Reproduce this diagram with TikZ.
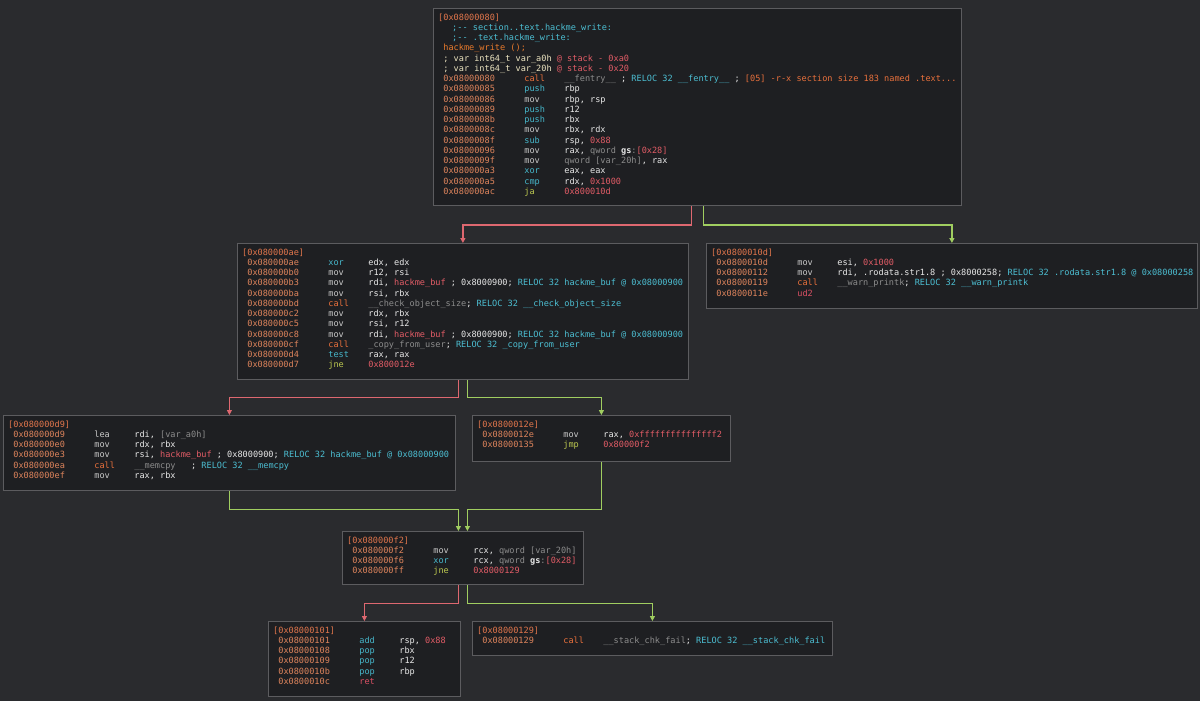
\documentclass[tikz,border=0pt]{standalone}
\usepackage{xcolor}
\usepackage{fontspec}
\setmonofont{DejaVu Sans Mono}
\usepackage{tikz}
\usetikzlibrary{arrows.meta}
\definecolor{bgdark}{RGB}{42,43,46}
\definecolor{boxfill}{RGB}{30,31,34}
\definecolor{boxline}{RGB}{92,92,95}
\definecolor{hdrorange}{RGB}{226,118,76}
\definecolor{addrorange}{RGB}{222,132,92}
\definecolor{opwhite}{RGB}{232,232,232}
\definecolor{mnemgrey}{RGB}{200,200,200}
\definecolor{mnemcyan}{RGB}{70,182,202}
\definecolor{callorange}{RGB}{232,112,60}
\definecolor{jumpgreen}{RGB}{188,200,80}
\definecolor{retred}{RGB}{218,80,100}
\definecolor{numred}{RGB}{226,92,102}
\definecolor{dimgrey}{RGB}{140,140,140}
\definecolor{reloccyan}{RGB}{76,190,210}
\definecolor{varyellow}{RGB}{236,228,192}
\definecolor{fnorange}{RGB}{232,122,44}
\definecolor{edgered}{RGB}{222,104,112}
\definecolor{edgegreen}{RGB}{160,206,96}

% one disassembly line: address, mnemonic colour, mnemonic, operands
\newcommand{\asmln}[4]{\hspace*{5.16pt}\makebox[81pt][l]{\textcolor{addrorange}{#1}}\makebox[40pt][l]{\textcolor{#2}{#3}}#4}
\newcommand{\cnum}[1]{\textcolor{numred}{#1}}
\newcommand{\cgry}[1]{\textcolor{dimgrey}{#1}}
\newcommand{\crel}[1]{\textcolor{reloccyan}{#1}}
\newcommand{\blkhead}[1]{\textcolor{hdrorange}{[#1]}}

\begin{document}
\begin{tikzpicture}[
    x=1pt, y=-1pt,
    blk/.style={draw=boxline, fill=boxfill, line width=0.8pt, inner sep=0pt,
                anchor=north west},
    code/.style={anchor=north west, inner sep=0pt, align=left, text=opwhite,
                 font=\ttfamily\fontsize{8.57pt}{10.25pt}\selectfont},
    fedge/.style={draw=edgered, line width=1pt, -{Triangle[width=5pt,length=5pt]}},
    tedge/.style={draw=edgegreen, line width=1pt, -{Triangle[width=5pt,length=5pt]}}
]
\path[use as bounding box, fill=bgdark] (0,0) rectangle (1200,701);

% Blocks
\node[blk, minimum width=528, minimum height=197] (b80)  at (433,8)   {};
\node[blk, minimum width=451, minimum height=136] (bae)  at (237,243) {};
\node[blk, minimum width=491, minimum height=65]  (b10d) at (706,243) {};
\node[blk, minimum width=452, minimum height=75]  (bd9)  at (3,415)   {};
\node[blk, minimum width=258, minimum height=46]  (b12e) at (472,415) {};
\node[blk, minimum width=241, minimum height=53]  (bf2)  at (342,531) {};
\node[blk, minimum width=192, minimum height=75]  (b101) at (268,621) {};
\node[blk, minimum width=360, minimum height=34]  (b129) at (472,621) {};

% Code
\node[code] (t80) at ([xshift=5pt,yshift=-5.5pt]b80.north west) {%
\blkhead{0x08000080}\\
\hspace*{14pt}\textcolor{reloccyan}{;-{}- section..text.hackme\_write:}\\
\hspace*{14pt}\textcolor{reloccyan}{;-{}- .text.hackme\_write:}\\
\hspace*{5.16pt}\textcolor{fnorange}{hackme\_write ();}\\
\hspace*{5.16pt}\textcolor{varyellow}{; var int64\_t var\_a0h} \cnum{@ stack - 0xa0}\\
\hspace*{5.16pt}\textcolor{varyellow}{; var int64\_t var\_20h} \cnum{@ stack - 0x20}\\
\asmln{0x08000080}{callorange}{call}{\cgry{\_\_fentry\_\_} ; \crel{RELOC 32 \_\_fentry\_\_} ; \textcolor{callorange}{[05] -r-x section size 183 named .text...}}\\
\asmln{0x08000085}{mnemcyan}{push}{rbp}\\
\asmln{0x08000086}{mnemgrey}{mov}{rbp, rsp}\\
\asmln{0x08000089}{mnemcyan}{push}{r12}\\
\asmln{0x0800008b}{mnemcyan}{push}{rbx}\\
\asmln{0x0800008c}{mnemgrey}{mov}{rbx, rdx}\\
\asmln{0x0800008f}{mnemcyan}{sub}{rsp, \cnum{0x88}}\\
\asmln{0x08000096}{mnemgrey}{mov}{rax, \cgry{qword} \textbf{gs}\cgry{:}\cnum{[0x28]}}\\
\asmln{0x0800009f}{mnemgrey}{mov}{\cgry{qword [var\_20h]}, rax}\\
\asmln{0x080000a3}{mnemcyan}{xor}{eax, eax}\\
\asmln{0x080000a5}{mnemcyan}{cmp}{rdx, \cnum{0x1000}}\\
\asmln{0x080000ac}{jumpgreen}{ja}{\cnum{0x800010d}}};

\node[code] (tae) at ([xshift=5pt,yshift=-5.5pt]bae.north west) {%
\blkhead{0x080000ae}\\
\asmln{0x080000ae}{mnemcyan}{xor}{edx, edx}\\
\asmln{0x080000b0}{mnemgrey}{mov}{r12, rsi}\\
\asmln{0x080000b3}{mnemgrey}{mov}{rdi, \cnum{hackme\_buf} ; 0x8000900; \crel{RELOC 32 hackme\_buf @ 0x08000900}}\\
\asmln{0x080000ba}{mnemgrey}{mov}{rsi, rbx}\\
\asmln{0x080000bd}{callorange}{call}{\cgry{\_\_check\_object\_size}; \crel{RELOC 32 \_\_check\_object\_size}}\\
\asmln{0x080000c2}{mnemgrey}{mov}{rdx, rbx}\\
\asmln{0x080000c5}{mnemgrey}{mov}{rsi, r12}\\
\asmln{0x080000c8}{mnemgrey}{mov}{rdi, \cnum{hackme\_buf} ; 0x8000900; \crel{RELOC 32 hackme\_buf @ 0x08000900}}\\
\asmln{0x080000cf}{callorange}{call}{\cgry{\_copy\_from\_user}; \crel{RELOC 32 \_copy\_from\_user}}\\
\asmln{0x080000d4}{mnemcyan}{test}{rax, rax}\\
\asmln{0x080000d7}{jumpgreen}{jne}{\cnum{0x800012e}}};

\node[code] (t10d) at ([xshift=5pt,yshift=-5.5pt]b10d.north west) {%
\blkhead{0x0800010d}\\
\asmln{0x0800010d}{mnemgrey}{mov}{esi, \cnum{0x1000}}\\
\asmln{0x08000112}{mnemgrey}{mov}{rdi, .rodata.str1.8 ; 0x8000258; \crel{RELOC 32 .rodata.str1.8 @ 0x08000258}}\\
\asmln{0x08000119}{callorange}{call}{\cgry{\_\_warn\_printk}; \crel{RELOC 32 \_\_warn\_printk}}\\
\asmln{0x0800011e}{retred}{ud2}{}};

\node[code] (td9) at ([xshift=5pt,yshift=-5.5pt]bd9.north west) {%
\blkhead{0x080000d9}\\
\asmln{0x080000d9}{mnemgrey}{lea}{rdi, \cgry{[var\_a0h]}}\\
\asmln{0x080000e0}{mnemgrey}{mov}{rdx, rbx}\\
\asmln{0x080000e3}{mnemgrey}{mov}{rsi, \cnum{hackme\_buf} ; 0x8000900; \crel{RELOC 32 hackme\_buf @ 0x08000900}}\\
\asmln{0x080000ea}{callorange}{call}{\cgry{\_\_memcpy}\ \ \ ; \crel{RELOC 32 \_\_memcpy}}\\
\asmln{0x080000ef}{mnemgrey}{mov}{rax, rbx}};

\node[code] (t12e) at ([xshift=5pt,yshift=-5.5pt]b12e.north west) {%
\blkhead{0x0800012e}\\
\asmln{0x0800012e}{mnemgrey}{mov}{rax, \cnum{0xfffffffffffffff2}}\\
\asmln{0x08000135}{jumpgreen}{jmp}{\cnum{0x80000f2}}};

\node[code] (tf2) at ([xshift=5pt,yshift=-5.5pt]bf2.north west) {%
\blkhead{0x080000f2}\\
\asmln{0x080000f2}{mnemgrey}{mov}{rcx, \cgry{qword [var\_20h]}}\\
\asmln{0x080000f6}{mnemcyan}{xor}{rcx, \cgry{qword} \textbf{gs}\cgry{:}\cnum{[0x28]}}\\
\asmln{0x080000ff}{jumpgreen}{jne}{\cnum{0x8000129}}};

\node[code] (t101) at ([xshift=5pt,yshift=-5.5pt]b101.north west) {%
\blkhead{0x08000101}\\
\asmln{0x08000101}{mnemcyan}{add}{rsp, \cnum{0x88}}\\
\asmln{0x08000108}{mnemcyan}{pop}{rbx}\\
\asmln{0x08000109}{mnemcyan}{pop}{r12}\\
\asmln{0x0800010b}{mnemcyan}{pop}{rbp}\\
\asmln{0x0800010c}{retred}{ret}{}};

\node[code] (t129) at ([xshift=5pt,yshift=-5.5pt]b129.north west) {%
\blkhead{0x08000129}\\
\asmln{0x08000129}{callorange}{call}{\cgry{\_\_stack\_chk\_fail}; \crel{RELOC 32 \_\_stack\_chk\_fail}}};

% Edges
\draw[fedge, line width=1.6pt] ([xshift=-6pt]b80.south) |- ([yshift=18pt]bae.north) -- (bae.north);
\draw[tedge, line width=1.6pt] ([xshift=6pt]b80.south) |- ([yshift=18pt]b10d.north) -- (b10d.north);
\draw[fedge] ([xshift=-4.5pt]bae.south) |- ([yshift=18pt]bd9.north) -- (bd9.north);
\draw[tedge] ([xshift=4.5pt]bae.south) |- ([yshift=18pt]b12e.north) -- (b12e.north);
\draw[tedge] (bd9.south) |- ([xshift=-4.5pt,yshift=22pt]bf2.north) -- ([xshift=-4.5pt]bf2.north);
\draw[tedge] (b12e.south) |- ([xshift=4.5pt,yshift=22pt]bf2.north) -- ([xshift=4.5pt]bf2.north);
\draw[fedge] ([xshift=-4.5pt]bf2.south) |- ([yshift=18pt]b101.north) -- (b101.north);
\draw[tedge] ([xshift=4.5pt]bf2.south) |- ([yshift=18pt]b129.north) -- (b129.north);

\end{tikzpicture}
\end{document}
